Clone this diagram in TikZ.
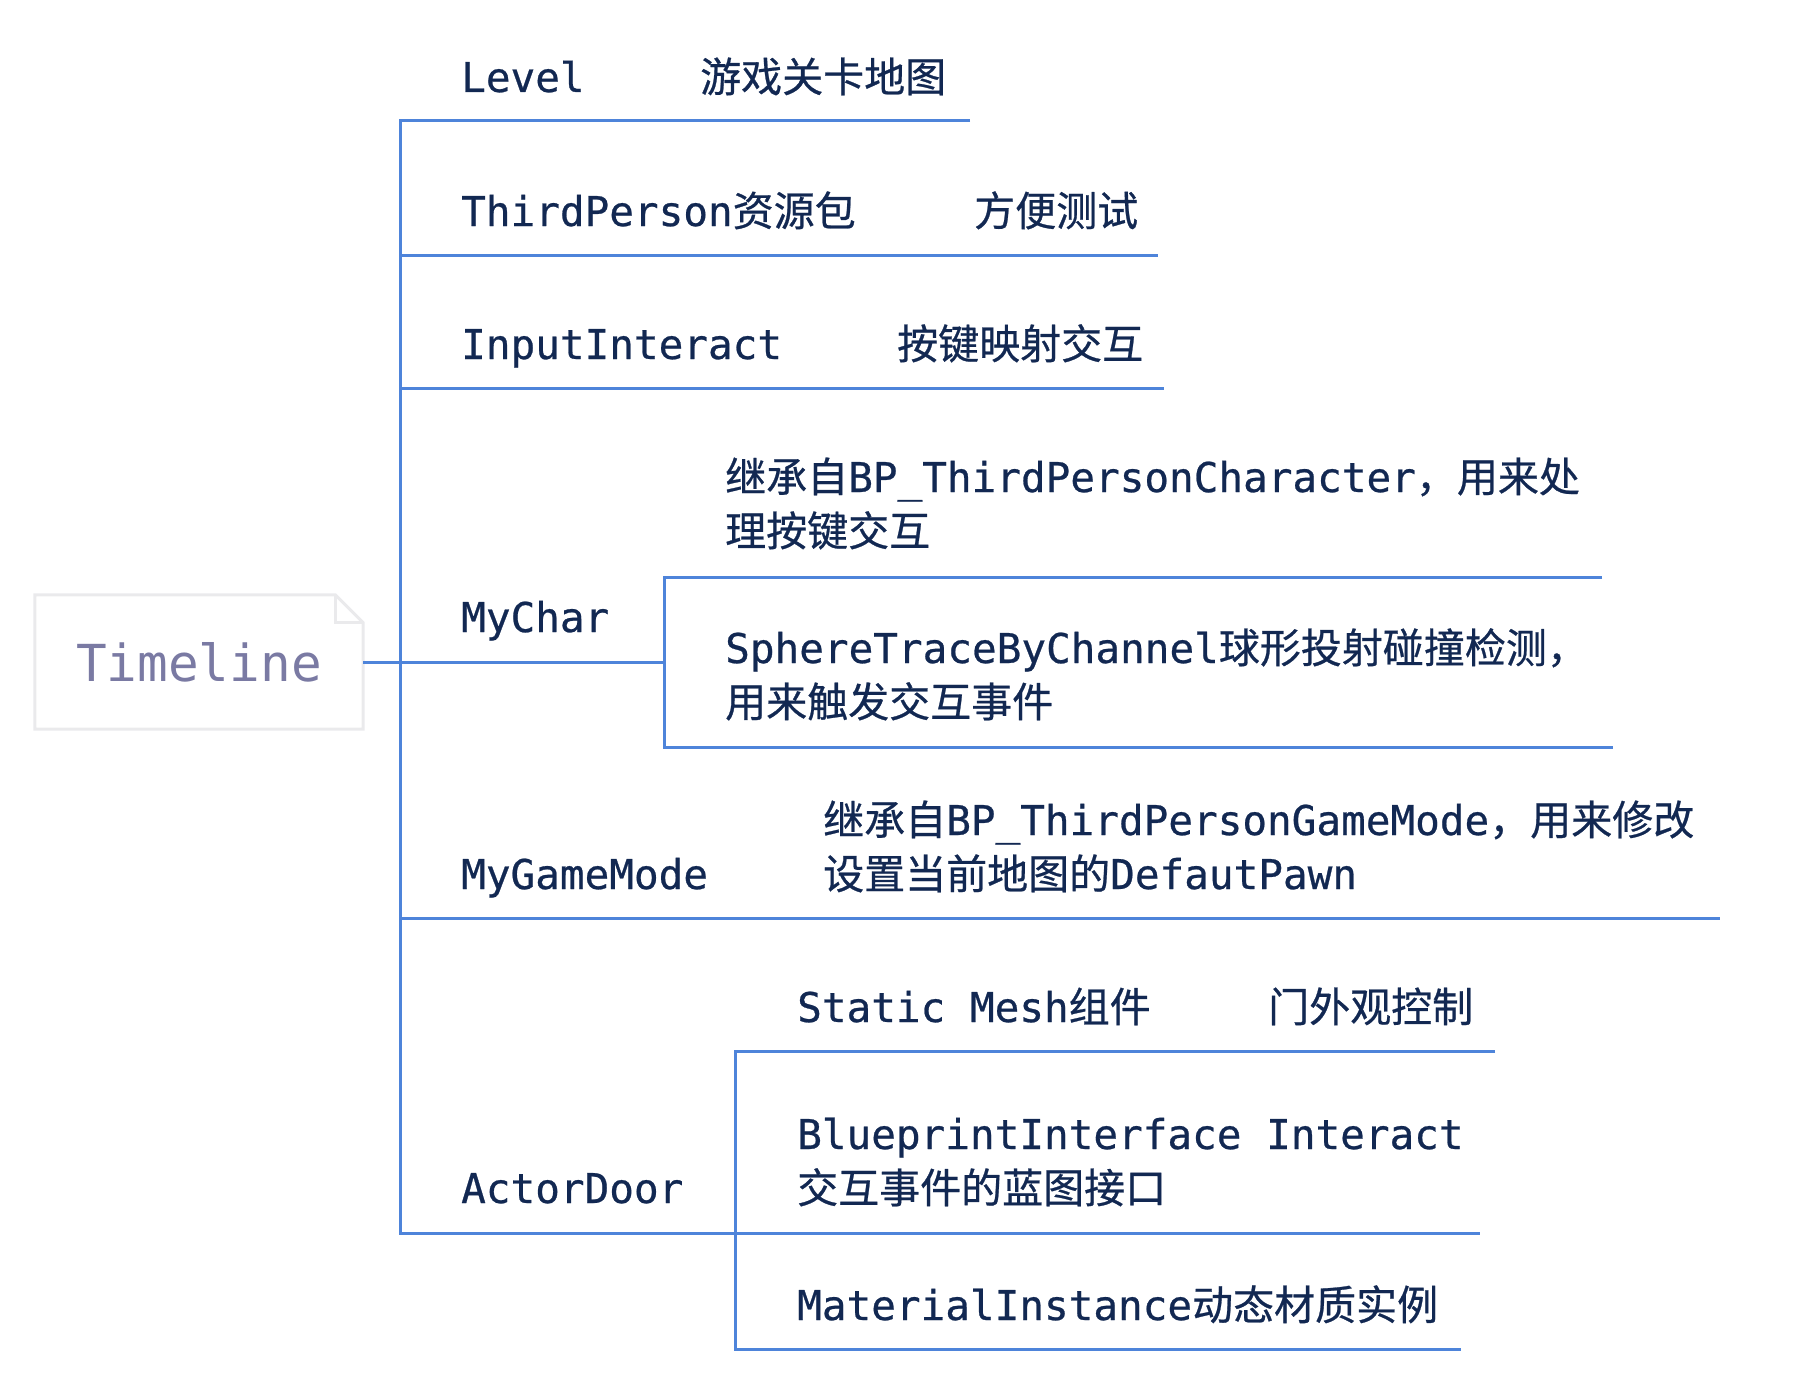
\documentclass[tikz,border=0pt]{standalone}
\usepackage{fontspec}
\setmainfont{DejaVu Sans Mono}[RawFeature={embolden=0.6}]
\newfontfamily\cjk{Noto Sans CJK SC}[RawFeature={embolden=0.6}]
\newfontfamily\rootfont{DejaVu Sans Mono}
\definecolor{branch}{RGB}{78,132,218}
\definecolor{ink}{RGB}{18,40,82}
\definecolor{rootink}{RGB}{122,122,163}
\definecolor{rootedge}{RGB}{234,234,236}
\begin{document}
\begin{tikzpicture}[x=1pt,y=-1pt,
  lbl/.style={anchor=base west, inner sep=0pt, text=ink, font=\fontsize{41}{54}\selectfont, align=left},
  edge/.style={draw=branch, line width=3pt, line join=miter},
  rootbox/.style={minimum width=328pt, minimum height=134pt, inner sep=0pt, text=rootink, font=\rootfont\fontsize{51}{60}\selectfont},
]
\useasboundingbox (0,0) rectangle (1807,1378);
% root
\node[rootbox] (root) at (199,662) {Timeline};
\draw[rootedge, line width=3pt]
  (root.north west) -- ([xshift=-28pt]root.north east) -- ([yshift=-28pt]root.north east) -- (root.south east) -- (root.south west) -- cycle;
\draw[rootedge, line width=3pt]
  ([xshift=-28pt]root.north east) -- ([xshift=-28pt,yshift=-28pt]root.north east) -- ([yshift=-28pt]root.north east);

% trunk junctions
\coordinate (tLevel) at (400,121);
\coordinate (tThird) at (400,255);
\coordinate (tInput) at (400,388);
\coordinate (tChar)  at (400,662);
\coordinate (tMode)  at (400,918);
\coordinate (tDoor)  at (400,1233);
% branch ends
\coordinate (eLevel) at (970,121);
\coordinate (eThird) at (1158,255);
\coordinate (eInput) at (1164,388);
\coordinate (eMode)  at (1720,918);
% MyChar sub-tree
\coordinate (cJ)  at (664,662);
\coordinate (cT)  at (664,577);
\coordinate (cB)  at (664,747);
\coordinate (cTe) at (1602,577);
\coordinate (cBe) at (1613,747);
% ActorDoor sub-tree
\coordinate (dJ)  at (735,1233);
\coordinate (dT)  at (735,1051);
\coordinate (dB)  at (735,1349);
\coordinate (dTe) at (1495,1051);
\coordinate (dMe) at (1480,1233);
\coordinate (dBe) at (1461,1349);

% connectors
\draw[edge] (root.east) -- (tChar);
\draw[edge] (eLevel) -- (tLevel) -- (tDoor) -- (dJ);
\draw[edge] (tThird) -- (eThird);
\draw[edge] (tInput) -- (eInput);
\draw[edge] (tChar) -- (cJ);
\draw[edge] (tMode) -- (eMode);
\draw[edge] (cTe) -- (cT) -- (cB) -- (cBe);
\draw[edge] (dTe) -- (dT) -- (dB) -- (dBe);
\draw[edge] (dJ) -- (dMe);

% texts (base anchor = baseline of the last line)
\node[lbl] (level)  at (461,92)  {Level};
\node[lbl] (levelD) at (700,92)  {\cjk 游戏关卡地图};
\node[lbl] (third)  at (461,226) {ThirdPerson{\cjk 资源包}};
\node[lbl] (thirdD) at (974,226) {\cjk 方便测试};
\node[lbl] (input)  at (461,359) {InputInteract};
\node[lbl] (inputD) at (897,359) {\cjk 按键映射交互};
\node[lbl] (mychar) at (461,632) {MyChar};
\node[lbl] (c1) at (725,546) {{\cjk 继承自}BP\_ThirdPersonCharacter{\cjk ，用来处}\\{\cjk 理按键交互}};
\node[lbl] (c2) at (725,717) {SphereTraceByChannel{\cjk 球形投射碰撞检测，}\\{\cjk 用来触发交互事件}};
\node[lbl] (mode)  at (461,889) {MyGameMode};
\node[lbl] (modeD) at (823,889) {{\cjk 继承自}BP\_ThirdPersonGameMode{\cjk ，用来修改}\\{\cjk 设置当前地图的}DefautPawn};
\node[lbl] (door) at (461,1203) {ActorDoor};
\node[lbl] (d1)  at (797,1022)  {Static Mesh{\cjk 组件}};
\node[lbl] (d1D) at (1268,1022) {\cjk 门外观控制};
\node[lbl] (d2)  at (797,1203)  {BlueprintInterface Interact\\{\cjk 交互事件的蓝图接口}};
\node[lbl] (d3)  at (797,1320)  {MaterialInstance{\cjk 动态材质实例}};
\end{tikzpicture}
\end{document}
